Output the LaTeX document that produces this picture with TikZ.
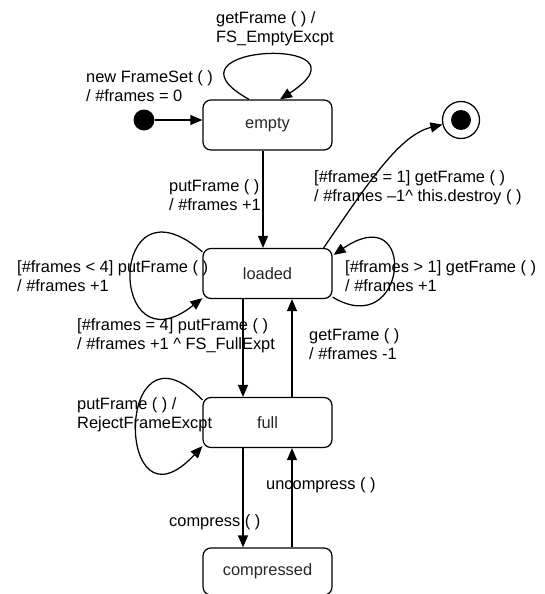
\documentclass[tikz,border=0pt]{standalone}
\usepackage{fontspec}
\setmainfont{Liberation Sans}
\usetikzlibrary{arrows.meta,calc}

\tikzset{
  state/.style={draw, line width=1.25pt, rounded corners=8pt, minimum width=129pt,
    minimum height=50pt, inner sep=0pt, text=black!85},
  trans/.style={line width=1.25pt, -{Triangle[length=12pt,width=10pt]}},
  lbl/.style={anchor=west, align=left, inner sep=0pt},
}

\begin{document}
\begin{tikzpicture}[x=1pt,y=-1pt,
  every node/.append style={font=\fontsize{16.4}{19}\selectfont}]
\useasboundingbox (0,0) rectangle (544,594);

% states
\node[state] (empty)      at (267.5,125)   {empty};
\node[state] (loaded)     at (267.5,273.5) {loaded};
\node[state] (full)       at (267.5,422.5) {full};
\node[state, minimum height=47pt] (compressed) at (267.5,571.5) {compressed};

% pseudo states
\node[circle, fill=black, minimum size=21pt, inner sep=0pt] (init) at (144,120) {};
\node[circle, draw, line width=1.25pt, minimum size=37pt, inner sep=0pt] (final) at (461,120) {};
\node[circle, fill=black, minimum size=20pt, inner sep=0pt] (finaldot) at (final.center) {};

% transitions
\draw[trans] (init) -- (init -| empty.west);

\draw[trans] ([xshift=-18.5pt]empty.north) .. controls +(-99,-55) and +(100,-65) .. ([xshift=12.5pt]empty.north);

\draw[trans] ([xshift=-4.5pt]empty.south) -- ([xshift=-4.5pt]loaded.north);

\draw[trans] ([shift={(0,4)}]loaded.north west) .. controls +(-95,-82) and +(-95,75) .. ([shift={(0,-1)}]loaded.south west);

\draw[trans] ([shift={(0,-2)}]loaded.south east) .. controls +(75,45) and +(85,-58) .. ([shift={(1,7)}]loaded.north east);

\draw[trans] ([xshift=-9pt]loaded.north east) .. controls (370,180) and (400,135) .. (final);

\draw[trans] ([xshift=-24.5pt]loaded.south) -- ([xshift=-24.5pt]full.north);
\draw[trans] ([xshift=24.5pt]full.north) -- ([xshift=24.5pt]loaded.south);

\draw[trans] ([shift={(0,3)}]full.north west) .. controls +(-88,-91) and +(-88,95) .. ([shift={(0,-2)}]full.south west);

\draw[trans] ([xshift=-24.5pt]full.south) -- ([xshift=-24.5pt]compressed.north);
\draw[trans] ([xshift=24.5pt]compressed.north) -- ([xshift=24.5pt]full.south);

% transition labels
\node[lbl] (l1)  at (216,29)    {getFrame ( ) /\\FS\_EmptyExcpt};
\node[lbl] (l2)  at (86,86)     {new FrameSet ( )\\/ \#frames = 0};
\node[lbl] (l3)  at (169,195)   {putFrame ( )\\/ \#frames +1};
\node[lbl] (l4)  at (314,187.5) {[\#frames = 1] getFrame ( )\\/ \#frames –1\textasciicircum{} this.destroy ( )};
\node[lbl] (l5)  at (17,276)    {[\#frames < 4] putFrame ( )\\/ \#frames +1};
\node[lbl] (l6)  at (345,276)   {[\#frames > 1] getFrame ( )\\/ \#frames +1};
\node[lbl] (l7)  at (77,336)    {[\#frames = 4] putFrame ( )\\/ \#frames +1 \textasciicircum{} FS\_FullExpt};
\node[lbl] (l8)  at (309,344.5) {getFrame ( )\\/ \#frames -1};
\node[lbl] (l9)  at (77,414.5)  {putFrame ( ) /\\RejectFrameExcpt};
\node[lbl] (l10) at (266,485)   {uncompress ( )};
\node[lbl] (l11) at (169,522)   {compress ( )};
\end{tikzpicture}
\end{document}
